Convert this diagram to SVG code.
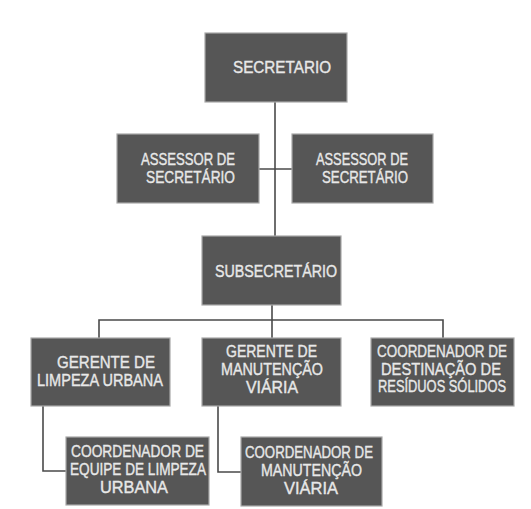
<svg xmlns="http://www.w3.org/2000/svg" width="531" height="509" viewBox="0 0 531 509">
<style>
.box{fill:#565656;stroke:#a8a8a8;stroke-width:1.2}
.t{font-family:"Liberation Sans",Arial,sans-serif;font-size:16px;fill:#e8e8e8;stroke:#e8e8e8;stroke-width:0.35}
.c{fill:none;stroke:#4a4a4a;stroke-width:1.6}
</style>
<rect width="531" height="509" fill="#ffffff"/>
<g id="connectors">
<path class="c" d="M275 102V236"/>
<path class="c" d="M259 169H292"/>
<path class="c" d="M272 305V338"/>
<path class="c" d="M99 338V320H443V338"/>
<path class="c" d="M43 406V471H66"/>
<path class="c" d="M218 406V472H241"/>
</g>
<g id="secretario">
<rect class="box" x="205" y="33" width="142" height="69"/>
<text class="t" x="233" y="73" textLength="98" lengthAdjust="spacingAndGlyphs">SECRETARIO</text>
</g>
<g id="assessor1">
<rect class="box" x="117" y="134" width="142" height="69"/>
<text class="t" x="141" y="165" textLength="94" lengthAdjust="spacingAndGlyphs">ASSESSOR DE</text>
<text class="t" x="146" y="183" textLength="89" lengthAdjust="spacingAndGlyphs">SECRETÁRIO</text>
</g>
<g id="assessor2">
<rect class="box" x="292" y="134" width="141" height="69"/>
<text class="t" x="316" y="165" textLength="92" lengthAdjust="spacingAndGlyphs">ASSESSOR DE</text>
<text class="t" x="322" y="183" textLength="86" lengthAdjust="spacingAndGlyphs">SECRETÁRIO</text>
</g>
<g id="subsecretario">
<rect class="box" x="202" y="236" width="139" height="69"/>
<text class="t" x="215" y="277" textLength="122" lengthAdjust="spacingAndGlyphs">SUBSECRETÁRIO</text>
</g>
<g id="gerente-limpeza">
<rect class="box" x="31" y="338" width="139" height="68"/>
<text class="t" x="57" y="368" textLength="98" lengthAdjust="spacingAndGlyphs">GERENTE DE</text>
<text class="t" x="37" y="386" textLength="126" lengthAdjust="spacingAndGlyphs">LIMPEZA URBANA</text>
</g>
<g id="gerente-manutencao">
<rect class="box" x="202" y="338" width="139" height="68"/>
<text class="t" x="226" y="357" textLength="91" lengthAdjust="spacingAndGlyphs">GERENTE DE</text>
<text class="t" x="221" y="375" textLength="102" lengthAdjust="spacingAndGlyphs">MANUTENÇÃO</text>
<text class="t" x="246" y="393" textLength="52" lengthAdjust="spacingAndGlyphs">VIÁRIA</text>
</g>
<g id="coord-residuos">
<rect class="box" x="371" y="338" width="143" height="68"/>
<text class="t" x="377" y="357" textLength="130" lengthAdjust="spacingAndGlyphs">COORDENADOR DE</text>
<text class="t" x="381" y="375" textLength="120" lengthAdjust="spacingAndGlyphs">DESTINAÇÃO DE</text>
<text class="t" x="378" y="392" textLength="128" lengthAdjust="spacingAndGlyphs">RESÍDUOS SÓLIDOS</text>
</g>
<g id="coord-limpeza">
<rect class="box" x="66" y="437" width="143" height="68"/>
<text class="t" x="71" y="457" textLength="133" lengthAdjust="spacingAndGlyphs">COORDENADOR DE</text>
<text class="t" x="70" y="475" textLength="136" lengthAdjust="spacingAndGlyphs">EQUIPE DE LIMPEZA</text>
<text class="t" x="100" y="493" textLength="68" lengthAdjust="spacingAndGlyphs">URBANA</text>
</g>
<g id="coord-manutencao">
<rect class="box" x="241" y="437" width="141" height="69"/>
<text class="t" x="245" y="458" textLength="128" lengthAdjust="spacingAndGlyphs">COORDENADOR DE</text>
<text class="t" x="261" y="476" textLength="101" lengthAdjust="spacingAndGlyphs">MANUTENÇÃO</text>
<text class="t" x="284" y="494" textLength="54" lengthAdjust="spacingAndGlyphs">VIÁRIA</text>
</g>
</svg>
